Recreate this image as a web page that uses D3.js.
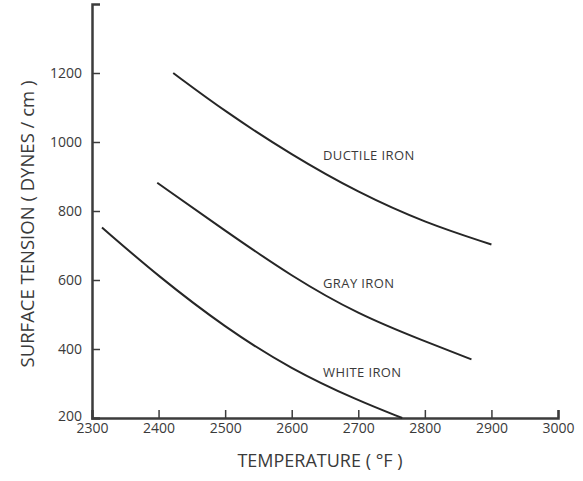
<!DOCTYPE html>
<html>
<head>
	<meta charset="UTF-8">
	<title>Surface tension</title>
	<style>
		body { margin: 0; background: #fff; }
		text { font-family: "Open Sans", sans-serif; fill: #3a3a3a; }
		.axis path, .axis line { stroke: #3c3c3c; }
		.curve { fill: none; stroke: #262626; stroke-width: 2; }
	</style>
</head>
<body>
<script src="https://d3js.org/d3.v7.min.js"></script>
<script>

'use strict';

// temperature (F) vs surface tension (dynes/cm)
var ductileTemp = [2422, 2500, 2600, 2700, 2800, 2900];
var ductileTension = [1200, 1088, 962, 853, 766, 703];
var grayTemp = [2398, 2500, 2600, 2700, 2800, 2870];
var grayTension = [882, 743, 610, 500, 422, 370];
var whiteTemp = [2315, 2400, 2500, 2600, 2700, 2766];
var whiteTension = [752, 610, 462, 340, 250, 200];

var seriesNames = ["DUCTILE IRON", "GRAY IRON", "WHITE IRON"];
var labelAt = [[2647, 962], [2647, 591], [2647, 333]];

var xTicks = [2300, 2400, 2500, 2600, 2700, 2800, 2900, 3000];
var yTicks = [200, 400, 600, 800, 1000, 1200];

var width = 583;
var height = 481;

var x = d3.scaleLinear()
	.domain([2300, 3000])
	.range([92, 558]);

var y = d3.scaleLinear()
	.domain([200, 1400])
	.range([418, 4]);

var svg = d3.select("body").append("svg")
	.attr("width", width)
	.attr("height", height);

// axes, ticks point inward
var xAxis = svg.append("g")
	.attr("class", "axis")
	.attr("transform", "translate(0," + y(200) + ")")
	.call(d3.axisBottom(x).tickValues(xTicks).tickSize(-8).tickPadding(4).tickFormat(d3.format("d")));

xAxis.select(".domain").attr("stroke-width", 2.5);
xAxis.selectAll(".tick line").attr("stroke-width", 1.5);
xAxis.selectAll(".tick text")
	.attr("font-size", 14)
	.attr("dy", "0.6em")
	.attr("y", 7);
xAxis.selectAll(".tick").filter(function(d){ return d === 2300; }).select("line").remove();

var yAxis = svg.append("g")
	.attr("class", "axis")
	.attr("transform", "translate(" + x(2300) + ",0)")
	.call(d3.axisLeft(y).tickValues(yTicks).tickSize(-8).tickPadding(10).tickFormat(d3.format("d")));

yAxis.select(".domain").attr("stroke-width", 2.5);
yAxis.selectAll(".tick line").attr("stroke-width", 1.5);
yAxis.selectAll(".tick text").attr("font-size", 14);
// 200 sits just above the corner
yAxis.selectAll(".tick text").filter(function(d){ return d === 200; }).attr("dy", "0.15em");
yAxis.selectAll(".tick").filter(function(d){ return d === 200; }).select("line").remove();

// axis titles
svg.append("text")
	.attr("x", 320)
	.attr("y", 467)
	.attr("text-anchor", "middle")
	.attr("font-size", 18)
	.text("TEMPERATURE ( °F )");

svg.append("text")
	.attr("transform", "translate(34," + 224 + ") rotate(-90)")
	.attr("text-anchor", "middle")
	.attr("font-size", 18.5)
	.text("SURFACE TENSION ( DYNES / cm )");

// curves
var line = d3.line()
	.x(function(d){ return x(d[0]); })
	.y(function(d){ return y(d[1]); })
	.curve(d3.curveBasis);

var series = [
	d3.zip(ductileTemp, ductileTension),
	d3.zip(grayTemp, grayTension),
	d3.zip(whiteTemp, whiteTension)
];

svg.selectAll(".curve")
	.data(series)
	.enter().append("path")
	.attr("class", "curve")
	.attr("d", line);

svg.selectAll(".label")
	.data(seriesNames)
	.enter().append("text")
	.attr("class", "label")
	.attr("x", function(d, i){ return x(labelAt[i][0]); })
	.attr("y", function(d, i){ return y(labelAt[i][1]); })
	.attr("dy", "0.35em")
	.attr("font-size", 13)
	.attr("letter-spacing", 0.4)
	.text(function(d){ return d; });

</script>
</body>
</html>
